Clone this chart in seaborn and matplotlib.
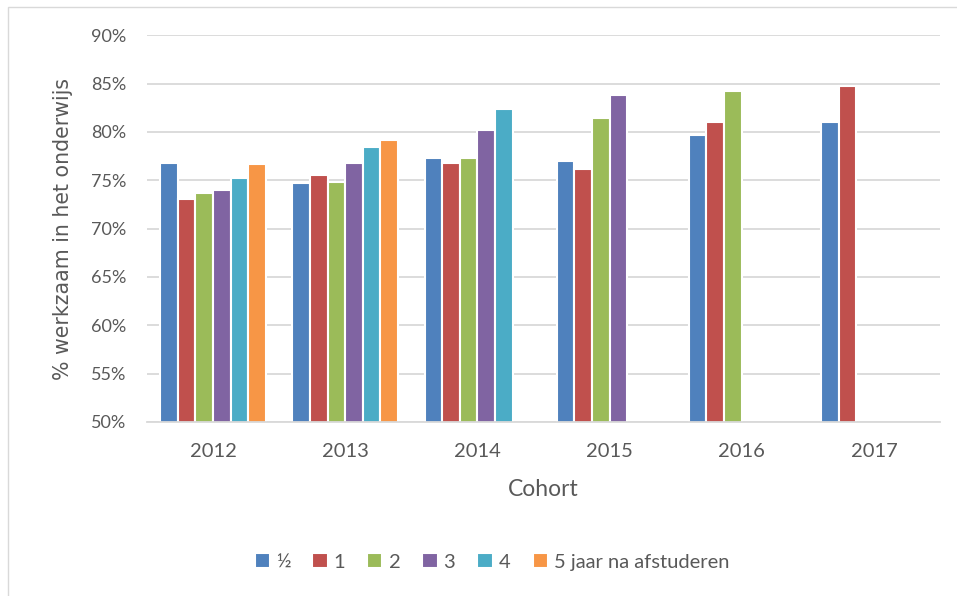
import numpy as np
import pandas as pd
import matplotlib
matplotlib.use("Agg")
import matplotlib.pyplot as plt
from matplotlib.patches import Rectangle
from matplotlib.ticker import FuncFormatter
import seaborn as sns

# --- data ---
cohorts = ["2012", "2013", "2014", "2015", "2016", "2017"]
series = ["½", "1", "2", "3", "4", "5 jaar na afstuderen"]

v_half = [76.8, 74.7, 77.3, 77.0, 79.7, 81.0]
v_1 = [73.1, 75.5, 76.8, 76.2, 81.0, 84.7]
v_2 = [73.7, 74.8, 77.3, 81.4, 84.2, np.nan]
v_3 = [74.0, 76.8, 80.2, 83.8, np.nan, np.nan]
v_4 = [75.2, 78.4, 82.4, 0.0, 0.0, np.nan]
v_5 = [76.7, 79.2, np.nan, np.nan, np.nan, np.nan]

colors = ["#4F81BD", "#C0504D", "#9BBB59", "#8064A2", "#4BACC6", "#F79646"]
text_grey = "#595959"
grid_grey = "#D9D9D9"

rows = []
for name, vals in zip(series, [v_half, v_1, v_2, v_3, v_4, v_5]):
    for c, v in zip(cohorts, vals):
        rows.append({"cohort": c, "series": name, "value": v})
df = pd.DataFrame(rows)

sns.set_style("white")
plt.rcParams["font.family"] = ["Lato", "DejaVu Sans"]

fig = plt.figure(figsize=(9.57, 5.96), dpi=100)
ax = fig.add_axes([0.1536, 0.292, 0.8286, 0.649])

sns.barplot(data=df, x="cohort", y="value", hue="series", order=cohorts,
            hue_order=series, palette=colors, saturation=1, width=0.8,
            edgecolor="white", linewidth=1.5, errorbar=None, ax=ax)

ax.set_ylim(50, 90)
ax.set_yticks(np.arange(50, 91, 5))
ax.yaxis.set_major_formatter(FuncFormatter(lambda v, _: f"{v:.0f}%"))
ax.set_xlim(-0.5, len(cohorts) - 0.5)

ax.grid(axis="y", color=grid_grey, linewidth=1.3)
ax.set_axisbelow(True)
for s in ["top", "right", "left"]:
    ax.spines[s].set_visible(False)
ax.spines["bottom"].set_color(grid_grey)
ax.spines["bottom"].set_linewidth(1.3)

ax.tick_params(axis="both", length=0, labelcolor=text_grey)
ax.tick_params(axis="x", pad=15, labelsize=14.5)
ax.tick_params(axis="y", pad=15, labelsize=13)

ax.set_xlabel("Cohort", fontsize=16.5, color=text_grey, labelpad=14)
ax.set_ylabel("% werkzaam in het onderwijs", fontsize=14.8, color=text_grey,
              labelpad=13, family="DejaVu Sans")

handles, labels = ax.get_legend_handles_labels()
ax.legend(handles, labels, loc="center", bbox_to_anchor=(0.514, 0.057),
          bbox_transform=fig.transFigure, ncol=6, frameon=False,
          handlelength=0.75, handleheight=0.75, handletextpad=0.3,
          columnspacing=1.1, fontsize=14.5, labelcolor=text_grey)

# light outer chart border
fig.patches.append(Rectangle((8 / 957, -0.01), 1.1, 1 - 7 / 596 + 0.01,
                             transform=fig.transFigure, fill=False,
                             edgecolor=grid_grey, linewidth=1))

fig.savefig("out.png", dpi=100)
